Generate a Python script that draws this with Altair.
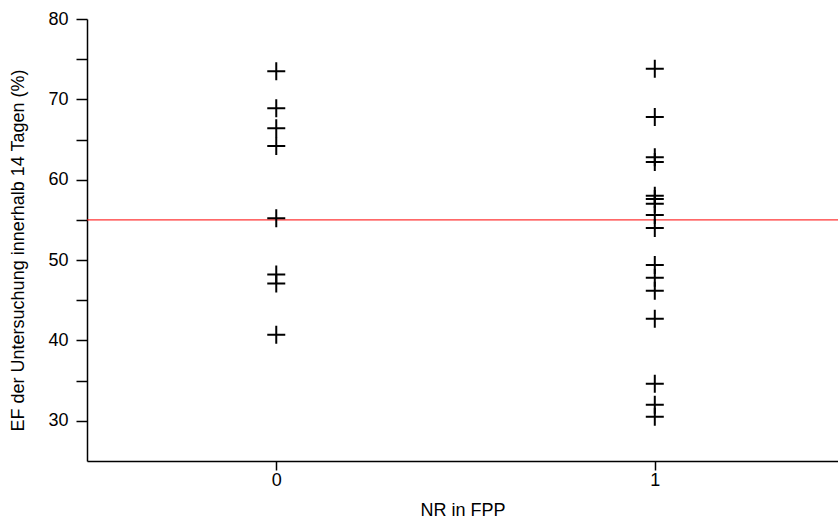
import altair as alt
import pandas as pd

group0 = [73.5, 68.9, 66.4, 64.2, 55.2, 48.2, 47.1, 40.7]
group1 = [73.8, 67.8, 62.8, 62.2, 58.0, 57.6, 57.0, 55.6, 54.0,
          49.4, 47.8, 46.2, 42.7, 34.6, 32.0, 30.5]
reference_value = 55.0

x_label = "NR in FPP"
y_label = "EF der Untersuchung innerhalb 14 Tagen (%)"

df = pd.DataFrame({
    "nr": [0] * len(group0) + [1] * len(group1),
    "ef": group0 + group1,
})
ref = pd.DataFrame({"ef": [reference_value]})

FONT = "Liberation Sans"

x_scale = alt.Scale(domain=[-0.5, 1.484], nice=False, zero=False)
y_scale = alt.Scale(domain=[25, 80], nice=False, zero=False)

points = alt.Chart(df).mark_point(
    shape="M-1,0L1,0M0,-1L0,1",
    size=324,
    filled=False,
    stroke="black",
    strokeWidth=2,
    opacity=1,
).encode(
    x=alt.X("nr:Q", scale=x_scale, title=x_label,
            axis=alt.Axis(values=[0, 1], format="d", grid=False,
                          tickSize=9, labelPadding=1, titlePadding=12)),
    y=alt.Y("ef:Q", scale=y_scale, title=y_label,
            axis=alt.Axis(values=[30, 35, 40, 45, 50, 55, 60, 65, 70, 75, 80],
                          labelExpr="datum.value % 10 == 0 ? datum.label : ''",
                          grid=False, tickSize=11, labelPadding=8,
                          titlePadding=20, titleY=231)),
)

rule = alt.Chart(ref).mark_rule(color="#ff0000", strokeWidth=1).encode(
    y=alt.Y("ef:Q", scale=y_scale),
)

chart = alt.layer(rule, points).properties(
    width=751,
    height=442,
    autosize=alt.AutoSizeParams(type="none"),
    padding={"left": 87, "top": 19, "right": 0, "bottom": 66},
    background="white",
).configure_view(
    stroke=None,
).configure_axis(
    domainColor="black",
    domainWidth=1.5,
    tickColor="black",
    tickWidth=1.5,
    labelColor="black",
    titleColor="black",
    labelFont=FONT,
    titleFont=FONT,
    labelFontSize=18,
    titleFontSize=18,
    titleFontWeight="normal",
)

chart.save("out.html", embed_options={"renderer": "svg", "actions": False})
